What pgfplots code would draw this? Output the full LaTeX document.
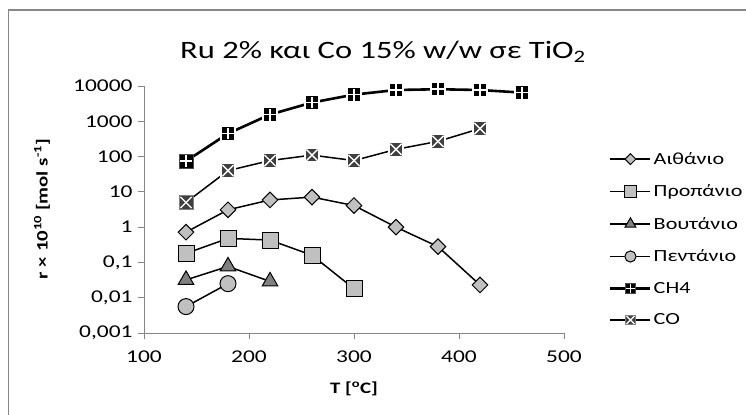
\documentclass[border=0pt]{standalone}
\usepackage{fontspec}
\setmainfont{Carlito}[FakeStretch=1.3, Numbers=Monospaced]
\usepackage{pgfplots}
\pgfplotsset{compat=1.18}
\definecolor{lgray}{RGB}{192,192,192}
\definecolor{mgray}{RGB}{128,128,128}
\definecolor{dgray}{RGB}{64,64,64}
\definecolor{axgray}{RGB}{134,134,134}
\pgfdeclareplotmark{ch4}{%
  \pgfpathrectangle{\pgfqpoint{-\pgfplotmarksize}{-\pgfplotmarksize}}{\pgfqpoint{2\pgfplotmarksize}{2\pgfplotmarksize}}%
  \pgfusepath{fill,stroke}%
  \pgfsetstrokecolor{white}\pgfsetlinewidth{1.6bp}%
  \pgfpathmoveto{\pgfqpoint{-0.85\pgfplotmarksize}{0pt}}\pgfpathlineto{\pgfqpoint{0.85\pgfplotmarksize}{0pt}}%
  \pgfpathmoveto{\pgfqpoint{0pt}{-0.85\pgfplotmarksize}}\pgfpathlineto{\pgfqpoint{0pt}{0.85\pgfplotmarksize}}%
  \pgfusepath{stroke}}
\pgfdeclareplotmark{co}{%
  \pgfpathrectangle{\pgfqpoint{-\pgfplotmarksize}{-\pgfplotmarksize}}{\pgfqpoint{2\pgfplotmarksize}{2\pgfplotmarksize}}%
  \pgfusepath{fill,stroke}%
  \pgfsetstrokecolor{white}\pgfsetlinewidth{1.3bp}%
  \pgfpathmoveto{\pgfqpoint{-0.8\pgfplotmarksize}{-0.8\pgfplotmarksize}}\pgfpathlineto{\pgfqpoint{0.8\pgfplotmarksize}{0.8\pgfplotmarksize}}%
  \pgfpathmoveto{\pgfqpoint{-0.8\pgfplotmarksize}{0.8\pgfplotmarksize}}\pgfpathlineto{\pgfqpoint{0.8\pgfplotmarksize}{-0.8\pgfplotmarksize}}%
  \pgfusepath{stroke}}
\begin{document}
\begin{tikzpicture}[x=1bp,y=1bp]
\clip (0,0) rectangle (746,414);
\draw[axgray, line width=1.6bp] (8.5,-30) -- (8.5,404) -- (800,404);
\begin{axis}[
  at={(144bp,81bp)}, anchor=south west,
  scale only axis, width=420bp, height=247bp,
  ymode=log, xmin=100, xmax=500, ymin=0.001, ymax=10000,
  axis x line*=bottom, axis y line*=left,
  axis line style={axgray, line width=1bp},
  every tick/.style={axgray, line width=1bp},
  tick align=outside, major tick length=6bp, minor tick num=0,
  xtick={100,200,300,400,500},
  xticklabels={\mbox{100},\mbox{200},\mbox{300},\mbox{400},\mbox{500}},
  ytick={0.001,0.01,0.1,1,10,100,1000,10000},
  yticklabels={{\mbox{0,001}},{\mbox{0,01}},{\mbox{0,1}},\mbox{1},\mbox{10},\mbox{100},\mbox{1000},\mbox{10000}},
  yminorticks=false,
  ticklabel style={font=\fontsize{18bp}{21bp}\selectfont},
  yticklabel style={xshift=-2bp},
  xticklabel style={yshift=-8bp},
  xlabel={\textbf{T [\textsuperscript{o}C]}},
  label style={font=\fontsize{16bp}{19bp}\selectfont},
  xlabel style={at={(axis description cs:0.5,-0.225)}, anchor=center},
  clip=false,
  legend style={at={(axis description cs:1.107,0.74)}, anchor=north west,
    draw=none, fill=none, inner sep=0pt, row sep=15bp,
    font=\fontsize{17bp}{20bp}\selectfont},
  legend cell align=left,
  legend image code/.code={\draw[mark repeat=2,mark phase=2,#1,every mark/.append style={scale=0.7}] plot coordinates {(0bp,0bp) (20bp,0bp) (40bp,0bp)};},
]
\addplot[black, line width=1.5bp, mark=square*, mark size=5.5bp, mark options={rotate=45, fill=lgray, draw=black, line width=1bp}]
  coordinates {(140,0.72) (180,3.1) (220,5.9) (260,7.1) (300,4.1) (340,1.0) (380,0.28) (420,0.023)};
\addlegendentry{Αιθάνιο}
\addplot[black, line width=1.5bp, mark=square*, mark size=8bp, mark options={fill=lgray, draw=black, line width=1bp}]
  coordinates {(140,0.18) (180,0.48) (220,0.43) (260,0.16) (300,0.018)};
\addlegendentry{Προπάνιο}
\addplot[black, line width=1.5bp, mark=triangle*, mark size=9bp, mark options={fill=mgray, draw=black, line width=1bp}]
  coordinates {(140,0.032) (180,0.077) (220,0.029)};
\addlegendentry{Βουτάνιο}
\addplot[black, line width=1.5bp, mark=*, mark size=8bp, mark options={fill=lgray, draw=black, line width=1bp}]
  coordinates {(140,0.0056) (180,0.025)};
\addlegendentry{Πεντάνιο}
\addplot[black, line width=2.6bp, mark=ch4, mark size=7bp, mark options={fill=black, draw=black!70, line width=0.8bp}]
  coordinates {(140,74) (180,450) (220,1550) (260,3400) (300,5700) (340,7700) (380,8100) (420,7700) (460,6500)};
\addlegendentry{CH4}
\addplot[black, line width=1.5bp, mark=co, mark size=7bp, mark options={fill=dgray, draw=black!50, line width=0.8bp}]
  coordinates {(140,5.0) (180,40) (220,77) (260,110) (300,77) (340,160) (380,270) (420,620)};
\addlegendentry{CO}
\end{axis}
\node[rotate=90, font=\fontsize{16bp}{19bp}\selectfont\bfseries] at (42,205) {r × 10\textsuperscript{10} [mol s\textsuperscript{-1}]};
\node[font=\fontsize{25bp}{30bp}\selectfont] at (383,362) {Ru 2\% και Co 15\% w/w σε TiO\textsubscript{2}};
\end{tikzpicture}
\end{document}
